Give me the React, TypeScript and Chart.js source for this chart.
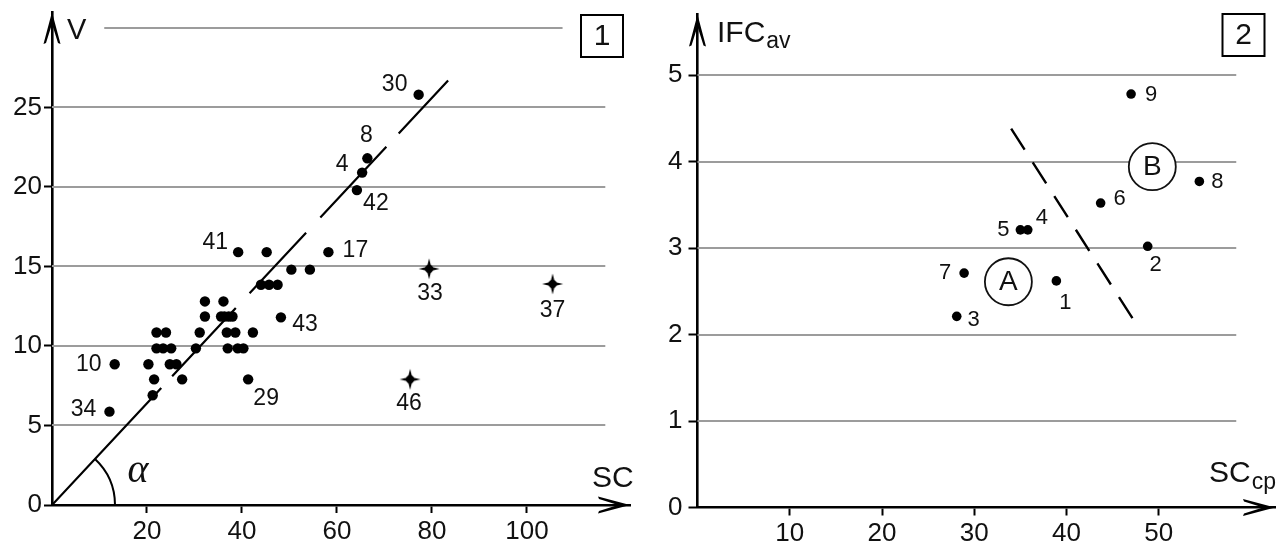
import React, { useEffect, useRef } from 'react';
import { Chart, registerables } from 'chart.js';

Chart.register(...registerables);

const SANS = "'Liberation Sans', Arial, Helvetica, sans-serif";
const SERIF = "'Liberation Serif', 'Times New Roman', serif";

// ---------------- Panel 1: V vs SC ----------------
const p1XTicks = [20, 40, 60, 80, 100];
const p1YTicks = [0, 5, 10, 15, 20, 25];
const p1GridValues = [5, 10, 15, 20, 25];
const p1TopGridValue = 30;

const p1LabelIds = ['30', '8', '4', '42', '17', '41', '43', '29', '10', '34'];
const p1LabelSC = [77.2, 66.4, 65.3, 64.2, 58.2, 39.2, 48.2, 41.3, 13.2, 12.1];
const p1LabelV = [25.8, 21.8, 20.9, 19.8, 15.9, 15.9, 11.8, 7.9, 8.85, 5.87];
const p1LabelOffsets = [[-24, -10], [-1, -23], [-20, -8], [19, 14], [27, -1], [-23, -9], [24, 7], [18, 19], [-26, 0], [-26, -2]];

const p1OtherSC = [45.2, 50.4, 54.3, 44.0, 45.7, 47.5, 21.2, 21.5, 20.3, 24.8, 26.2, 27.4,
  22.0, 24.0, 31.1, 36.8, 38.6, 42.3,
  22.0, 23.4, 25.1, 30.3, 37.0, 39.1, 40.3,
  32.2, 35.6, 36.3, 37.2, 38.0,
  32.2, 36.1];
const p1OtherV = [15.9, 14.8, 14.8, 13.85, 13.85, 13.85, 6.9, 7.9, 8.85, 8.85, 8.85, 7.9,
  10.85, 10.85, 10.85, 10.85, 10.85, 10.85,
  9.85, 9.85, 9.85, 9.85, 9.85, 9.85, 9.85,
  11.85, 11.85, 11.85, 11.85, 11.85,
  12.8, 12.8];

const p1OutlierIds = ['33', '37', '46'];
const p1OutlierSC = [79.4, 105.4, 75.4];
const p1OutlierV = [14.85, 13.9, 7.9];
const p1OutlierOffsets = [[1, 25], [0, 27], [-1, 24]];

const trendSlope = 0.32;
const trendSegments = [[0, 23], [25.3, 38.7], [41.6, 53.5], [56.5, 70.4], [73, 83.4]];

// ---------------- Panel 2: IFCav vs SCcp ----------------
const p2XTicks = [10, 20, 30, 40, 50];
const p2YTicks = [0, 1, 2, 3, 4, 5];
const p2GridValues = [1, 2, 3, 4, 5];

const p2Ids = ['1', '2', '3', '4', '5', '6', '7', '8', '9'];
const p2SC = [38.9, 48.8, 28.1, 35.8, 35.0, 43.7, 28.9, 54.4, 47.0];
const p2IFC = [2.62, 3.02, 2.21, 3.21, 3.21, 3.52, 2.71, 3.77, 4.78];
const p2LabelOffsets = [[9, 22], [8, 19], [17, 4], [14, -12], [-17, 0], [19, -4], [-19, 0], [18, 1], [20, 1]];

const boundaryLine = [{ x: 34.0, y: 4.38 }, { x: 47.2, y: 2.18 }];

const regionNames = ['A', 'B'];
const regionSC = [33.7, 49.3];
const regionIFC = [2.61, 3.94];

// ---------------- helpers ----------------
function makeStar() {
  const c = document.createElement('canvas');
  c.width = 24; c.height = 24;
  const g = c.getContext('2d')!;
  g.fillStyle = '#000';
  g.beginPath();
  for (let k = 0; k < 8; k++) {
    const a = (k * Math.PI) / 4 - Math.PI / 2;
    const r = k % 2 === 0 ? 10.5 : 3.0;
    const px = 12 + r * Math.cos(a);
    const py = 12 + r * Math.sin(a);
    if (k === 0) g.moveTo(px, py); else g.lineTo(px, py);
  }
  g.closePath();
  g.fill();
  g.beginPath();
  g.arc(12, 12, 4.2, 0, Math.PI * 2);
  g.fill();
  return c;
}

function arrowHead(ctx: CanvasRenderingContext2D, x: number, y: number, angle: number) {
  ctx.save();
  ctx.translate(x, y);
  ctx.rotate(angle);
  ctx.fillStyle = '#000';
  ctx.beginPath();
  ctx.moveTo(0, 0);
  ctx.lineTo(-32, -8.5);
  ctx.lineTo(-31, -6);
  ctx.lineTo(-12, 0);
  ctx.lineTo(-31, 6);
  ctx.lineTo(-32, 8.5);
  ctx.closePath();
  ctx.fill();
  ctx.restore();
}

function makeGridPlugin(lines: { value: number; from: number; to: number }[]) {
  return {
    id: 'customGrid',
    beforeDatasetsDraw(chart: any) {
      const ctx = chart.ctx;
      const xs = chart.scales.x, ys = chart.scales.y;
      ctx.save();
      ctx.strokeStyle = '#9c9c9c';
      ctx.lineWidth = 2;
      lines.forEach((l) => {
        const y = Math.round(ys.getPixelForValue(l.value));
        ctx.beginPath();
        ctx.moveTo(xs.getPixelForValue(l.from), y);
        ctx.lineTo(xs.getPixelForValue(l.to), y);
        ctx.stroke();
      });
      ctx.restore();
    },
  };
}

const labelPlugin = {
  id: 'pointLabels',
  afterDatasetsDraw(chart: any) {
    const ctx = chart.ctx;
    chart.data.datasets.forEach((ds: any, i: number) => {
      if (!ds.labelsText) return;
      const meta = chart.getDatasetMeta(i);
      ctx.save();
      ctx.font = `${ds.labelSize}px ${SANS}`;
      ctx.fillStyle = '#111';
      ctx.textAlign = 'center';
      ctx.textBaseline = 'middle';
      meta.data.forEach((el: any, j: number) => {
        const [dx, dy] = ds.labelOffsets[j];
        ctx.fillText(ds.labelsText[j], el.x + dx, el.y + dy);
      });
      ctx.restore();
    });
  },
};

function axisScale(min: number, max: number, ticks: number[], fontSize: number, pad: number, fitSize: number, horizontal: boolean, tickLen: number) {
  return {
    type: 'linear',
    min,
    max,
    afterBuildTicks: (s: any) => { s.ticks = ticks.map((v) => ({ value: v })); },
    afterFit: (s: any) => {
      if (horizontal) s.height = fitSize; else s.width = fitSize;
      s.paddingTop = 0; s.paddingBottom = 0; s.paddingLeft = 0; s.paddingRight = 0;
    },
    grid: { drawOnChartArea: false, drawTicks: true, tickLength: tickLen, tickColor: '#000', tickWidth: 2 },
    border: { display: true, color: '#000', width: 2.6 },
    ticks: { autoSkip: false, maxRotation: 0, color: '#111', padding: pad, font: { family: SANS, size: fontSize } },
  };
}

function drawBox(ctx: CanvasRenderingContext2D, x: number, y: number, s: number, text: string) {
  ctx.save();
  ctx.strokeStyle = '#000';
  ctx.lineWidth = 2;
  ctx.strokeRect(x, y, s, s);
  ctx.fillStyle = '#111';
  ctx.font = `30px ${SANS}`;
  ctx.textAlign = 'center';
  ctx.textBaseline = 'middle';
  ctx.fillText(text, x + s / 2, y + s / 2 + 1);
  ctx.restore();
}

const p1Annot = {
  id: 'p1Annot',
  afterDraw(chart: any) {
    const ctx = chart.ctx;
    const xs = chart.scales.x, ys = chart.scales.y;
    const x0 = xs.getPixelForValue(0), y0 = ys.getPixelForValue(0);
    arrowHead(ctx, chart.chartArea.right, y0, 0);
    arrowHead(ctx, x0, chart.chartArea.top, -Math.PI / 2);
    const ang = Math.atan2(y0 - ys.getPixelForValue(trendSlope * 10), xs.getPixelForValue(10) - x0);
    ctx.save();
    ctx.strokeStyle = '#000';
    ctx.lineWidth = 2;
    ctx.beginPath();
    ctx.arc(x0, y0, 63, -ang, 0);
    ctx.stroke();
    ctx.fillStyle = '#111';
    ctx.font = `italic 40px ${SERIF}`;
    ctx.textAlign = 'center';
    ctx.textBaseline = 'middle';
    ctx.fillText('α', x0 + 86, y0 - 34);
    ctx.textAlign = 'left';
    ctx.textBaseline = 'alphabetic';
    ctx.font = `29px ${SANS}`;
    ctx.fillText('V', 67, 39);
    ctx.font = `30px ${SANS}`;
    ctx.fillText('SC', 592, 487);
    ctx.restore();
    drawBox(ctx, 581, 15, 42, '1');
  },
};

const p2Annot = {
  id: 'p2Annot',
  afterDatasetsDraw(chart: any) {
    const ctx = chart.ctx;
    const xs = chart.scales.x, ys = chart.scales.y;
    ctx.save();
    regionNames.forEach((name, i) => {
      const cx = xs.getPixelForValue(regionSC[i]);
      const cy = ys.getPixelForValue(regionIFC[i]);
      ctx.beginPath();
      ctx.arc(cx, cy, 23.5, 0, Math.PI * 2);
      ctx.fillStyle = '#fff';
      ctx.fill();
      ctx.strokeStyle = '#111';
      ctx.lineWidth = 1.8;
      ctx.stroke();
      ctx.fillStyle = '#111';
      ctx.font = `28px ${SANS}`;
      ctx.textAlign = 'center';
      ctx.textBaseline = 'middle';
      ctx.fillText(name, cx, cy + 1);
    });
    ctx.restore();
  },
  afterDraw(chart: any) {
    const ctx = chart.ctx;
    const xs = chart.scales.x, ys = chart.scales.y;
    const x0 = xs.getPixelForValue(0), y0 = ys.getPixelForValue(0);
    arrowHead(ctx, chart.chartArea.right, y0, 0);
    arrowHead(ctx, x0, chart.chartArea.top, -Math.PI / 2);
    ctx.save();
    ctx.fillStyle = '#111';
    ctx.textAlign = 'left';
    ctx.textBaseline = 'alphabetic';
    ctx.font = `30px ${SANS}`;
    ctx.fillText('IFC', 77, 42);
    let w = ctx.measureText('IFC').width;
    ctx.font = `23px ${SANS}`;
    ctx.fillText('av', 77 + w + 1, 48);
    ctx.font = `30px ${SANS}`;
    ctx.fillText('SC', 569, 482);
    w = ctx.measureText('SC').width;
    ctx.font = `23px ${SANS}`;
    ctx.fillText('cp', 569 + w + 1, 489);
    ctx.restore();
    drawBox(ctx, 582.5, 14, 42, '2');
  },
};

export default function App() {
  const leftRef = useRef<HTMLCanvasElement>(null);
  const rightRef = useRef<HTMLCanvasElement>(null);

  useEffect(() => {
    const star = makeStar();

    const trendData: any[] = [];
    trendSegments.forEach(([a, b]) => {
      trendData.push({ x: a, y: trendSlope * a });
      trendData.push({ x: b, y: trendSlope * b });
      trendData.push({ x: b, y: null });
    });

    const p1Grid = p1GridValues.map((v) => ({ value: v, from: 0, to: 116.5 }));
    p1Grid.push({ value: p1TopGridValue, from: 11, to: 107.5 });

    const left = new Chart(leftRef.current!, {
      type: 'scatter',
      data: {
        datasets: [
          { type: 'line', data: trendData, borderColor: '#000', borderWidth: 2.2, pointRadius: 0, fill: false, tension: 0, spanGaps: false } as any,
          {
            data: p1LabelSC.map((x, i) => ({ x, y: p1LabelV[i] })),
            pointRadius: 5.2, backgroundColor: '#000', borderWidth: 0,
            labelsText: p1LabelIds, labelOffsets: p1LabelOffsets, labelSize: 23,
          } as any,
          {
            data: p1OtherSC.map((x, i) => ({ x, y: p1OtherV[i] })),
            pointRadius: 5.2, backgroundColor: '#000', borderWidth: 0,
          },
          {
            data: p1OutlierSC.map((x, i) => ({ x, y: p1OutlierV[i] })),
            pointStyle: star, pointRadius: 10, backgroundColor: '#000', borderWidth: 0,
            labelsText: p1OutlierIds, labelOffsets: p1OutlierOffsets, labelSize: 23,
          } as any,
        ],
      },
      options: {
        animation: false,
        responsive: false,
        devicePixelRatio: 1,
        events: [],
        layout: { padding: { top: 12, right: 5, left: 0, bottom: 0 } },
        plugins: { legend: { display: false }, tooltip: { enabled: false } },
        scales: {
          x: axisScale(0, 121.7, p1XTicks, 26, 3, 41, true, 8) as any,
          y: axisScale(0, 31, p1YTicks, 26, 2, 52, false, 8) as any,
        },
      },
      plugins: [makeGridPlugin(p1Grid), labelPlugin, p1Annot],
    });

    const right = new Chart(rightRef.current!, {
      type: 'scatter',
      data: {
        datasets: [
          { type: 'line', data: boundaryLine, borderColor: '#000', borderWidth: 2.4, borderDash: [25, 15], pointRadius: 0, fill: false, tension: 0 } as any,
          {
            data: p2SC.map((x, i) => ({ x, y: p2IFC[i] })),
            pointRadius: 4.8, backgroundColor: '#000', borderWidth: 0,
            labelsText: p2Ids, labelOffsets: p2LabelOffsets, labelSize: 22,
          } as any,
        ],
      },
      options: {
        animation: false,
        responsive: false,
        devicePixelRatio: 1,
        events: [],
        layout: { padding: { top: 14.5, right: 10, left: 0, bottom: 0 } },
        plugins: { legend: { display: false }, tooltip: { enabled: false } },
        scales: {
          x: axisScale(0, 62.6, p2XTicks, 26, 3, 38.5, true, 8) as any,
          y: axisScale(0, 5.7, p2YTicks, 26, 6, 57.5, false, 9) as any,
        },
      },
      plugins: [makeGridPlugin(p2GridValues.map((v) => ({ value: v, from: 0, to: 58.4 }))), p2Annot, labelPlugin],
    });

    return () => {
      left.destroy();
      right.destroy();
    };
  }, []);

  return (
    <div style={{ position: 'fixed', left: 0, top: 0, width: 1285, height: 546, background: '#fff' }}>
      <canvas ref={leftRef} width={640} height={546} style={{ position: 'absolute', left: 0, top: 0, width: 640, height: 546 }} />
      <canvas ref={rightRef} width={645} height={546} style={{ position: 'absolute', left: 640, top: 0, width: 645, height: 546 }} />
    </div>
  );
}
